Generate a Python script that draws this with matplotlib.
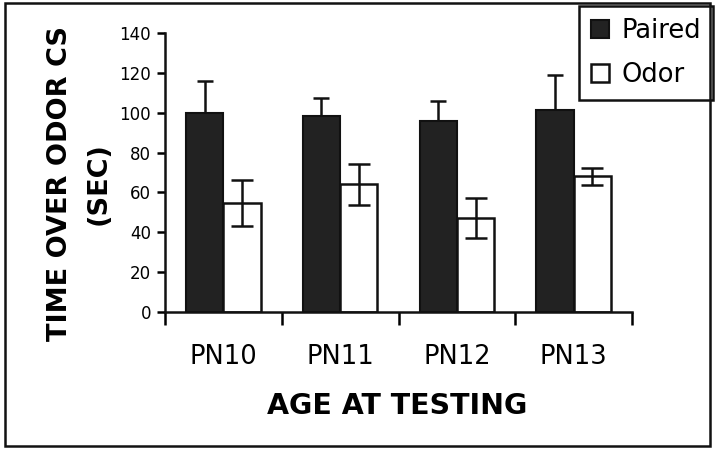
import matplotlib
matplotlib.use("Agg")
import matplotlib.pyplot as plt
from matplotlib.patches import Rectangle
import numpy as np

categories = ["PN10", "PN11", "PN12", "PN13"]
paired = [100, 98.5, 96, 101.5]
paired_err = [16, 9, 10, 17.5]
odor = [54.5, 64, 47, 68]
odor_err = [11.5, 10.5, 10, 4.5]
yticks = [0, 20, 40, 60, 80, 100, 120, 140]

plt.rcParams['font.family'] = ['DejaVu Sans']

fig = plt.figure(figsize=(7.15, 4.51), dpi=100)
ax = fig.add_axes([165/715, 1-312/451, (632-165)/715, (312-33)/451])

x = np.arange(len(categories))
w = 0.32
ax.bar(x - w/2, paired, width=w, color='#222222', edgecolor='#111111', linewidth=1.5, label='Paired', zorder=2)
ax.bar(x + w/2, odor, width=w, color='white', edgecolor='#111111', linewidth=1.8, label='Odor', zorder=2)
ax.errorbar(x - w/2, paired, yerr=[np.zeros(len(paired)), paired_err], fmt='none',
            ecolor='#111111', elinewidth=1.8, capsize=6, capthick=1.8, zorder=1)
ax.errorbar(x + w/2, odor, yerr=odor_err, fmt='none',
            ecolor='#111111', elinewidth=1.8, capsize=8, capthick=1.8, zorder=3)

ax.set_xlim(-0.5, 3.5)
ax.set_ylim(0, 140)
ax.set_yticks(yticks)
ax.set_yticklabels([str(v) for v in yticks], fontsize=12)
ax.set_xticks(x)
ax.set_xticklabels(categories, fontsize=18.5)
ax.set_xticks(np.arange(-0.5, 4.0, 1.0), minor=True)
ax.tick_params(axis='x', which='major', length=0, pad=23)
ax.tick_params(axis='x', which='minor', length=9, width=1.8, direction='out')
ax.tick_params(axis='y', length=6, width=1.8, direction='out', pad=4)

for s in ['top', 'right']:
    ax.spines[s].set_visible(False)
for s in ['left', 'bottom']:
    ax.spines[s].set_linewidth(1.8)
    ax.spines[s].set_color('#111111')

ax.set_xlabel("AGE AT TESTING", fontsize=20.5, fontweight='bold')
ax.xaxis.set_label_coords(0.497, -0.285)
ax.set_ylabel("TIME OVER ODOR CS\n(SEC)", fontsize=19.5, fontweight='bold', linespacing=1.6)
ax.yaxis.set_label_coords(-0.115, 0.46)

leg = ax.legend(loc='upper left', bbox_to_anchor=(579/715, 1-6/451), bbox_transform=fig.transFigure,
                fontsize=18.5, frameon=True, fancybox=False, framealpha=1, edgecolor='#111111',
                handlelength=0.7, handleheight=0.7, handletextpad=0.5, labelspacing=0.72,
                borderpad=0.45, borderaxespad=0)
leg.get_frame().set_linewidth(1.8)

fig.patches.append(Rectangle((5/715, 1-446/451), 705/715, 443/451, transform=fig.transFigure,
                             fill=False, edgecolor='#111111', linewidth=1.8))

fig.savefig("out.png", dpi=100)
